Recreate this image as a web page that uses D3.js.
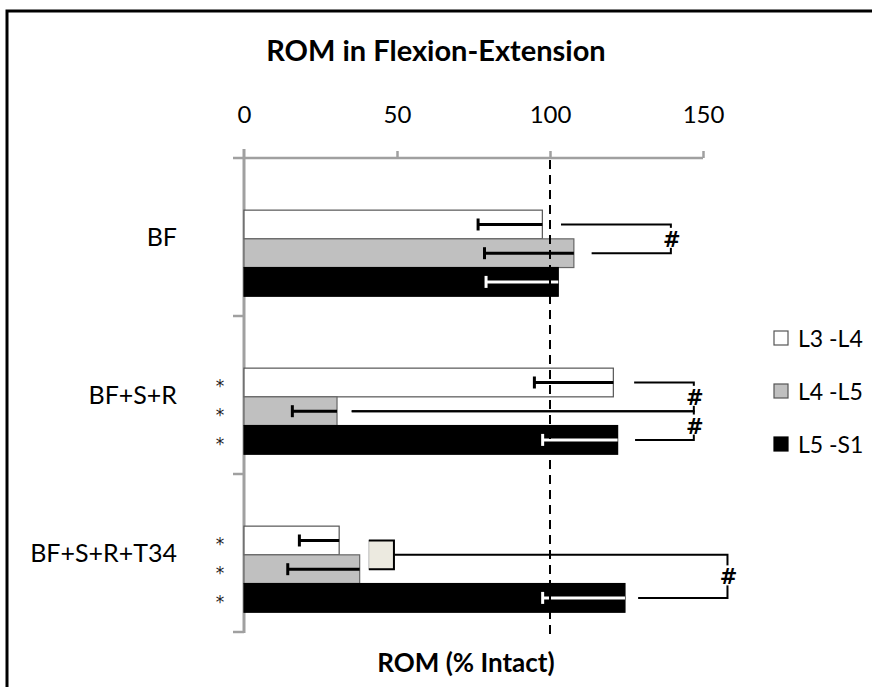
<!DOCTYPE html>
<html>
<head>
<meta charset="utf-8">
<script src="https://cdn.jsdelivr.net/npm/d3@7"></script>
<style>
  body { margin: 0; background: #fff; }
  svg { display: block; font-family: Lato, "Open Sans", sans-serif; }
</style>
</head>
<body>
<svg width="872" height="687"></svg>
<script>
  // values (% of intact)
  var categories = ['BF', 'BF+S+R', 'BF+S+R+T34'];
  var seriesNames = ['L3 -L4', 'L4 -L5', 'L5 -S1'];
  var l3l4 = [97.5, 120.7, 31.1];
  var l4l5 = [107.8, 30.4, 37.8];
  var l5s1 = [102.7, 122.1, 124.5];
  // lower error (only one side is shown)
  var l3l4Err = [21, 25.8, 13];
  var l4l5Err = [29.2, 14.6, 23.5];
  var l5s1Err = [23.6, 24.5, 26.9];
  var ticks = [0, 50, 100, 150];
  var starred = [false, true, true];
  // brackets: category, from series, to series, where each arm starts, where it turns
  var brackets = [
    {cat: 0, a: 0, b: 1, startA: 103.6, startB: 113.6, end: 139.5},
    {cat: 1, a: 0, b: 1, startA: 127.5, startB: 35.2, end: 147},
    {cat: 1, a: 1, b: 2, startA: 35.2, startB: 127.8, end: 147},
    {cat: 2, a: 'box', b: 2, startA: 49, startB: 128.8, end: 158}
  ];
  var boxRange = [40.8, 49];

  var fills = ['#ffffff', '#c0c0c0', '#000000'];
  var strokes = ['#555', '#666', '#000'];
  var errColor = ['#000', '#000', '#fff'];

  var values = [l3l4, l4l5, l5s1];
  var errs = [l3l4Err, l4l5Err, l5s1Err];

  var svg = d3.select('svg');

  var x = d3.scaleLinear().domain([0, 150]).range([244, 703]);
  var y = d3.scaleBand().domain(categories).range([158, 632]);
  var sub = d3.scaleBand().domain(d3.range(3))
    .range([y.bandwidth() * 0.33, y.bandwidth() * 0.875]);

  // frame
  svg.append('path')
    .attr('d', 'M7,690V11H880')
    .attr('fill', 'none').attr('stroke', '#000').attr('stroke-width', 3);

  svg.append('text')
    .attr('x', 436).attr('y', 61)
    .attr('text-anchor', 'middle')
    .attr('font-size', 29).attr('font-weight', 'bold')
    .text('ROM in Flexion-Extension');

  // top axis
  var axis = svg.append('g')
    .attr('transform', 'translate(0,158)')
    .call(d3.axisTop(x).tickValues(ticks).tickSize(7).tickSizeOuter(0).tickPadding(28));
  axis.select('.domain').remove();
  axis.selectAll('.tick line').attr('stroke', '#a0a0a0').attr('stroke-width', 2.5);
  axis.selectAll('.tick text')
    .attr('font-family', 'Lato, sans-serif').attr('font-size', 24).attr('fill', '#000');
  axis.selectAll('.tick').filter(function (d) { return d === 0; }).select('line').remove();

  svg.append('line')
    .attr('x1', 233).attr('x2', x(150)).attr('y1', 158).attr('y2', 158)
    .attr('stroke', '#a0a0a0').attr('stroke-width', 2.5);
  svg.append('line')
    .attr('x1', x(0)).attr('x2', x(0)).attr('y1', 149).attr('y2', 633)
    .attr('stroke', '#a0a0a0').attr('stroke-width', 3);
  svg.selectAll('.cattick')
    .data(categories.slice(1).concat(['end']))
    .enter().append('line')
    .attr('x1', 233).attr('x2', x(0))
    .attr('y1', function (d, i) { return 158 + y.step() * (i + 1); })
    .attr('y2', function (d, i) { return 158 + y.step() * (i + 1); })
    .attr('stroke', '#a0a0a0').attr('stroke-width', 2.5);

  // bars
  var groups = svg.selectAll('.grp')
    .data(categories)
    .enter().append('g')
    .attr('transform', function (d) { return 'translate(0,' + y(d) + ')'; });

  groups.selectAll('rect')
    .data(function (d, ci) { return values.map(function (s, si) { return {si: si, v: s[ci]}; }); })
    .enter().append('rect')
    .attr('x', x(0))
    .attr('y', function (d) { return sub(d.si); })
    .attr('width', function (d) { return x(d.v) - x(0); })
    .attr('height', sub.bandwidth())
    .attr('fill', function (d) { return fills[d.si]; })
    .attr('stroke', function (d) { return strokes[d.si]; })
    .attr('stroke-width', 1.2);

  // dashed 100% line
  svg.append('line')
    .attr('x1', x(100)).attr('x2', x(100)).attr('y1', 160).attr('y2', 636)
    .attr('stroke', '#000').attr('stroke-width', 2)
    .attr('stroke-dasharray', '9,6');

  // error bars
  groups.each(function (c, ci) {
    var g = d3.select(this);
    values.forEach(function (s, si) {
      var cy = sub(si) + sub.bandwidth() / 2;
      var lo = s[ci] - errs[si][ci];
      g.append('line')
        .attr('x1', x(lo)).attr('x2', x(s[ci])).attr('y1', cy).attr('y2', cy)
        .attr('stroke', errColor[si]).attr('stroke-width', 3);
      g.append('line')
        .attr('x1', x(lo)).attr('x2', x(lo)).attr('y1', cy - 6).attr('y2', cy + 6)
        .attr('stroke', errColor[si]).attr('stroke-width', 3);
    });
  });

  // category labels
  svg.selectAll('.cat')
    .data(categories)
    .enter().append('text')
    .attr('x', 177)
    .attr('y', function (d) { return y(d) + y.bandwidth() / 2 + 9; })
    .attr('text-anchor', 'end')
    .attr('font-size', 25)
    .text(function (d) { return d; });

  // stars
  groups.filter(function (d, i) { return starred[i]; })
    .selectAll('.star')
    .data(d3.range(3))
    .enter().append('text')
    .attr('x', 220)
    .attr('y', function (d) { return sub(d) + sub.bandwidth() / 2 + 10; })
    .attr('text-anchor', 'middle')
    .attr('font-family', 'DejaVu Sans, sans-serif')
    .attr('font-size', 17)
    .attr('fill', '#222')
    .text('*');

  // significance brackets
  brackets.forEach(function (b) {
    var top = y(categories[b.cat]);
    var ya = b.a === 'box' ? top + sub(1) : top + sub(b.a) + sub.bandwidth() / 2;
    var yb = top + sub(b.b) + sub.bandwidth() / 2;
    svg.append('path')
      .attr('d', 'M' + x(b.startA) + ',' + ya + 'H' + x(b.end) + 'V' + yb + 'H' + x(b.startB))
      .attr('fill', 'none').attr('stroke', '#000').attr('stroke-width', 2);
    var my = (ya + yb) / 2;
    svg.append('rect')
      .attr('x', x(b.end) - 9).attr('y', my - 11).attr('width', 20).attr('height', 20)
      .attr('fill', '#fff');
    svg.append('text')
      .attr('x', x(b.end) + 1).attr('y', my + 8)
      .attr('text-anchor', 'middle')
      .attr('font-family', 'DejaVu Sans, sans-serif')
      .attr('font-size', 21).attr('font-weight', 'bold')
      .text('#');
  });

  // beige box that joins L3-L4 and L4-L5 in the last group
  var boxTop = y(categories[2]) + sub(1) - sub.bandwidth() / 2;
  svg.append('rect')
    .attr('x', x(boxRange[0])).attr('y', boxTop)
    .attr('width', x(boxRange[1]) - x(boxRange[0])).attr('height', sub.bandwidth())
    .attr('fill', '#eceae0').attr('stroke', '#bbb').attr('stroke-width', 1);
  svg.append('path')
    .attr('d', 'M' + x(boxRange[0]) + ',' + boxTop + 'H' + x(boxRange[1]) +
      'V' + (boxTop + sub.bandwidth()) + 'H' + x(boxRange[0]))
    .attr('fill', 'none').attr('stroke', '#000').attr('stroke-width', 2);

  // legend
  var legend = svg.selectAll('.leg')
    .data(seriesNames)
    .enter().append('g')
    .attr('transform', function (d, i) { return 'translate(774,' + (331 + i * 53) + ')'; });
  legend.append('rect')
    .attr('width', 14).attr('height', 14)
    .attr('fill', function (d, i) { return fills[i]; })
    .attr('stroke', function (d, i) { return i === 2 ? '#000' : '#555'; })
    .attr('stroke-width', 1.2);
  legend.append('text')
    .attr('x', 24).attr('y', 16)
    .attr('font-size', 23)
    .text(function (d) { return d; });

  // axis title
  svg.append('text')
    .attr('x', 466).attr('y', 672)
    .attr('text-anchor', 'middle')
    .attr('font-size', 26).attr('font-weight', 'bold')
    .text('ROM (% Intact)');
</script>
</body>
</html>
